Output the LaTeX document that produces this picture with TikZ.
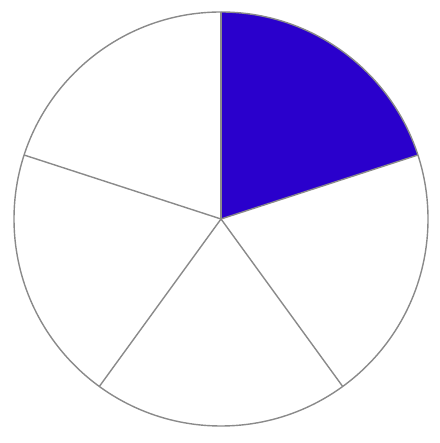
\documentclass[tikz,border=0pt]{standalone}
\definecolor{sectorblue}{HTML}{2A00CC}
\definecolor{rimgray}{HTML}{8A8A8A}
\tikzset{rim/.style={draw=rimgray,line width=1.4pt}}
\begin{document}
\begin{tikzpicture}[x=1pt,y=1pt]
\useasboundingbox (0,0) rectangle (439,443);
\coordinate (c) at (221,224);
\fill[sectorblue] (c) -- ++(18:207) arc[start angle=18,end angle=90,radius=207] -- cycle;
\foreach \a in {90,18,-54,-126,162} {
  \draw[rim] (c) -- ++(\a:207);
}
\draw[rim] (c) circle[radius=207];
\end{tikzpicture}
\end{document}
